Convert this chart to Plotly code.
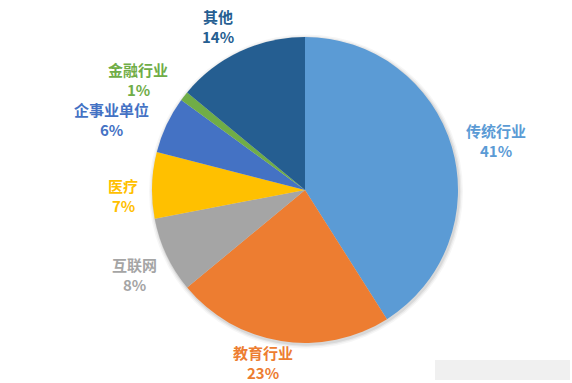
import math
import plotly.graph_objects as go

# Share of respondents by sector (percent), clockwise from 12 o'clock
sectors = ["传统行业", "教育行业", "互联网", "医疗", "企事业单位", "金融行业", "其他"]
shares = [41, 23, 8, 7, 6, 1, 14]
colors = ["#5B9BD5", "#ED7D31", "#A5A5A5", "#FFC000", "#4472C4", "#70AD47", "#255E91"]

# Fine pixel adjustments for each data label (dx, dy)
label_nudge = [(-1, 3), (-13, 0), (3, 4), (4, 11), (-6, 10), (-11, 4), (-12, -1)]

W, H = 572, 383
cx, cy, r = 305, 190, 153  # pie centre and radius in pixels


def domain(x, y, rad):
    return dict(x=[(x - rad) / W, (x + rad) / W], y=[1 - (y + rad) / H, 1 - (y - rad) / H])


fig = go.Figure()

# Soft drop shadow beneath the pie
for grow, alpha in ((4, 0.035), (2.5, 0.05), (1.2, 0.07)):
    fig.add_trace(go.Pie(
        values=[1], labels=["shadow"], sort=False, textinfo="none", hoverinfo="skip",
        marker=dict(colors=[f"rgba(0,0,0,{alpha})"], line=dict(width=0)),
        domain=domain(cx + 1, cy + 1.5, r + grow), showlegend=False,
    ))

fig.add_trace(go.Pie(
    labels=sectors,
    values=shares,
    sort=False,
    direction="clockwise",
    rotation=0,
    textinfo="none",
    hoverinfo="label+percent",
    marker=dict(colors=colors, line=dict(color="white", width=0)),
    domain=domain(cx, cy, r),
    showlegend=False,
))

# Outside data labels placed from each slice's mid-angle
annotations = []
total = sum(shares)
cum = 0
font_family = "Noto Sans CJK SC, Noto Sans, sans-serif"
for name, val, col, (nx, ny) in zip(sectors, shares, colors, label_nudge):
    mid = (cum + val / 2) / total * 2 * math.pi
    cum += val
    dx, dy = math.sin(mid), math.cos(mid)  # dy positive = up
    half_w = len(name) * 7.5
    half_h = 19
    rr = r + 18 * abs(dx)
    lx = cx + dx * (rr + half_w) + nx
    ly = cy - dy * (rr + half_h) + ny
    pct = round(val / total * 100)
    for text, off in ((name, -10), (f"{pct}%", 10)):
        annotations.append(dict(
            x=lx / W, y=1 - (ly + off) / H, xref="paper", yref="paper",
            text=f"<b>{text}</b>", showarrow=False,
            xanchor="center", yanchor="middle",
            font=dict(family=font_family, size=15, color=col),
        ))

fig.update_layout(
    width=W, height=H,
    margin=dict(l=0, r=0, t=0, b=0),
    paper_bgcolor="white",
    plot_bgcolor="white",
    annotations=annotations,
    shapes=[dict(
        type="rect", xref="paper", yref="paper",
        x0=435 / W, x1=570 / W, y0=1 - 380 / H, y1=1 - 360 / H,
        fillcolor="rgba(0,0,0,0.06)", line=dict(width=0), layer="below",
    )],
)

fig.write_html("out.html")
